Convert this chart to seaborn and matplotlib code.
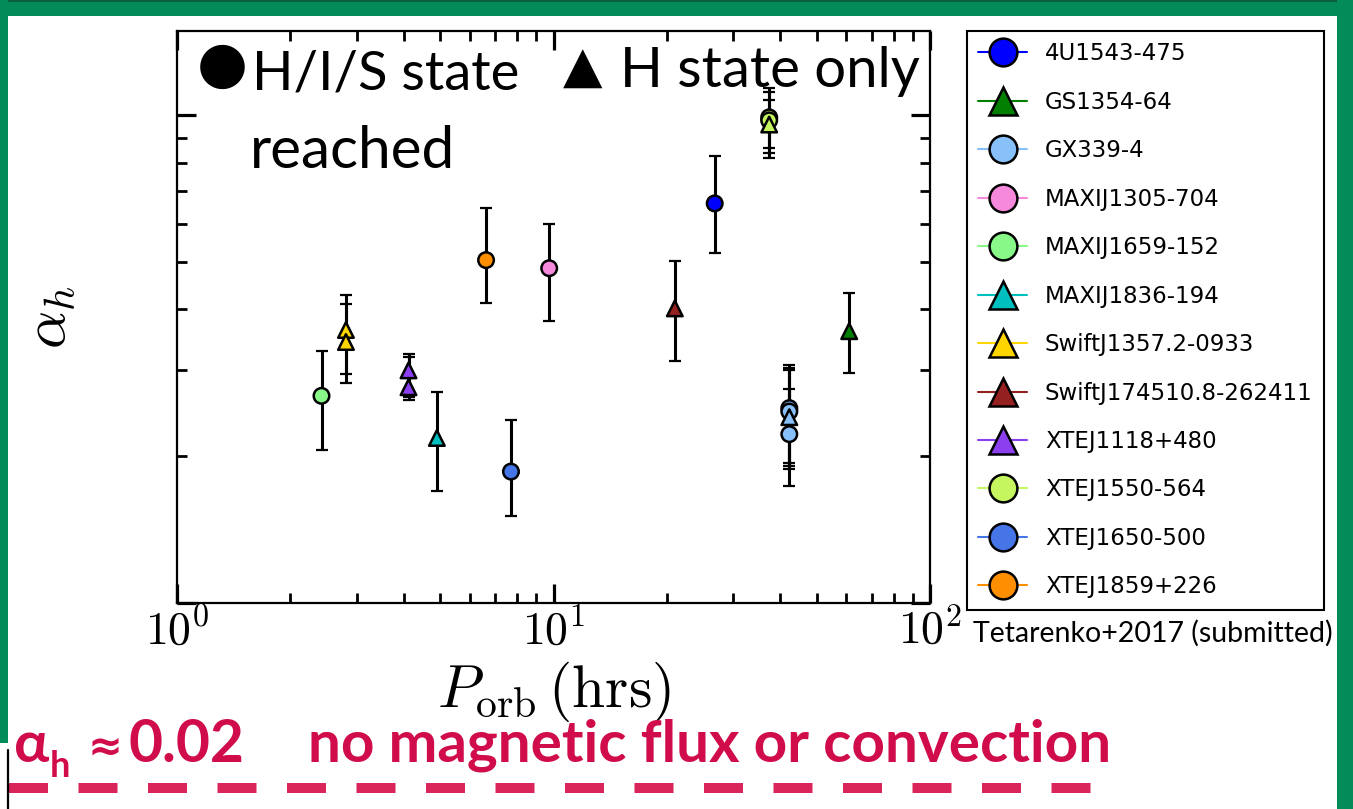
import numpy as np
import pandas as pd
import matplotlib
matplotlib.use("Agg")
import matplotlib.pyplot as plt
import seaborn as sns
from matplotlib.lines import Line2D
from matplotlib.patches import Rectangle
from matplotlib import ticker

# ---------------- data ----------------
sources = ["MAXIJ1659-152", "SwiftJ1357.2-0933", "SwiftJ1357.2-0933",
           "XTEJ1118+480", "XTEJ1118+480", "MAXIJ1836-194",
           "XTEJ1859+226", "XTEJ1650-500", "MAXIJ1305-704",
           "SwiftJ174510.8-262411", "4U1543-475",
           "XTEJ1550-564", "XTEJ1550-564", "XTEJ1550-564",
           "GX339-4", "GX339-4", "GX339-4", "GX339-4",
           "GS1354-64"]
period_hr = [2.42, 2.81, 2.81, 4.12, 4.12, 4.90, 6.62, 7.71, 9.74,
             21.0, 26.8, 37.4, 37.4, 37.4, 42.3, 42.3, 42.3, 42.3, 61.0]
alpha_h = [0.266, 0.363, 0.343, 0.300, 0.277, 0.218, 0.505, 0.186, 0.486,
           0.402, 0.660, 0.991, 0.977, 0.958, 0.251, 0.247, 0.222, 0.2405, 0.361]
alpha_lo = [0.206, 0.295, 0.283, 0.264, 0.261, 0.170, 0.412, 0.151, 0.378,
            0.313, 0.522, 0.856, 0.836, 0.816, 0.194, 0.191, 0.174, 0.188, 0.296]
alpha_hi = [0.328, 0.428, 0.410, 0.324, 0.319, 0.271, 0.645, 0.237, 0.598,
            0.502, 0.824, 1.136, 1.115, 1.078, 0.308, 0.303, 0.300, 0.2745, 0.432]
state = ["HIS", "H", "H", "H", "H", "H", "HIS", "HIS", "HIS",
         "H", "HIS", "HIS", "HIS", "H", "HIS", "HIS", "HIS", "H", "H"]

legend_order = ["4U1543-475", "GS1354-64", "GX339-4", "MAXIJ1305-704",
                "MAXIJ1659-152", "MAXIJ1836-194", "SwiftJ1357.2-0933",
                "SwiftJ174510.8-262411", "XTEJ1118+480", "XTEJ1550-564",
                "XTEJ1650-500", "XTEJ1859+226"]
legend_markers = ["o", "^", "o", "o", "o", "^", "^", "^", "^", "o", "o", "o"]
source_colors = ["#0000FF", "#007F00", "#88C0FA", "#F789DC", "#88F888",
                 "#00BFBF", "#FFD500", "#952020", "#8B3FEF", "#C5F660",
                 "#4575E6", "#FF8F00"]

df = pd.DataFrame({"source": sources, "P": period_hr, "alpha": alpha_h,
                   "lo": alpha_lo, "hi": alpha_hi, "state": state})
palette = dict(zip(legend_order, source_colors))

# ---------------- figure ----------------
sns.set_style("ticks")
plt.rcParams["font.family"] = ["DejaVu Sans"]
plt.rcParams["mathtext.fontset"] = "cm"
for k in ["text.color", "axes.labelcolor", "xtick.color", "ytick.color",
          "axes.edgecolor", "legend.labelcolor"]:
    plt.rcParams[k] = "black"

W, H = 1353, 809
fig = plt.figure(figsize=(W / 100, H / 100), dpi=100)
fig.patch.set_facecolor("white")


def fx(px):
    return px / W


def fy(py):
    return 1 - py / H


ax = fig.add_axes([fx(177), fy(603), (930 - 177) / W, (603 - 31) / H])
ax.set_facecolor("white")

ax.errorbar(df["P"], df["alpha"],
            yerr=[df["alpha"] - df["lo"], df["hi"] - df["alpha"]],
            fmt="none", ecolor="black", elinewidth=2.2, capsize=4,
            capthick=1.6, zorder=2)
sns.scatterplot(data=df, x="P", y="alpha", hue="source", style="state",
                palette=palette, markers={"HIS": "o", "H": "^"}, s=125,
                edgecolor="black", linewidth=1.8, legend=False, ax=ax,
                zorder=3)

ax.set_xscale("log")
ax.set_yscale("log")
ax.set_xlim(1, 100)
ax.set_ylim(0.1, 1.49)
ax.xaxis.set_major_locator(ticker.LogLocator(base=10))
ax.xaxis.set_major_formatter(ticker.FuncFormatter(
    lambda v, p: r"$10^{%d}$" % int(round(np.log10(v)))))
ax.xaxis.set_minor_formatter(ticker.NullFormatter())
ax.yaxis.set_major_formatter(ticker.NullFormatter())
ax.yaxis.set_minor_formatter(ticker.NullFormatter())
ax.tick_params(which="both", direction="in", top=True, right=True,
               color="black", labelcolor="black")
ax.tick_params(which="major", length=14, width=2.3)
ax.tick_params(which="minor", length=7, width=2.0)
ax.tick_params(axis="x", labelsize=33, pad=4)
for sp in ax.spines.values():
    sp.set_linewidth(1.6)
    sp.set_color("black")
ax.set_xlabel(r"$P_{\rm orb}\,({\rm hrs})$", fontsize=43, labelpad=4,
              color="black")
ax.set_ylabel(r"$\alpha_h$", fontsize=43, labelpad=68, color="black")

# ---------------- legend ----------------
handles = [Line2D([0], [0], color=palette[s], lw=1.5, marker=m,
                  markersize=20, markerfacecolor=palette[s],
                  markeredgecolor="black", markeredgewidth=1.8)
           for s, m in zip(legend_order, legend_markers)]
leg = fig.legend(handles, legend_order, loc="upper left",
                 bbox_to_anchor=(fx(967), fy(31)),
                 bbox_transform=fig.transFigure, borderaxespad=0,
                 fontsize=16.5, labelspacing=1.11, handlelength=2.1,
                 handletextpad=0.8, borderpad=0.5, frameon=True,
                 fancybox=False, edgecolor="black", framealpha=1,
                 numpoints=1)
leg.get_frame().set_linewidth(1.5)
for t in leg.get_texts():
    t.set_color("black")

# ---------------- slide texts ----------------
renderer = fig.canvas.get_renderer()
SANS = ["Lato", "Open Sans", "DejaVu Sans"]


def fit_text(x, y, txt, target_w, **kw):
    t = fig.text(fx(x), fy(y), txt, ha="left", va="baseline", **kw)
    w = t.get_window_extent(renderer).width
    t.set_fontsize(t.get_fontsize() * target_w / w)
    return t


fig.text(fx(222), fy(82), "\u25CF", fontsize=42, family="DejaVu Sans",
         ha="center", va="baseline", color="black")
fit_text(252, 90, "H/I/S state", 268, family=SANS, fontsize=40, color="black")
fit_text(250, 168, "reached", 205, family=SANS, fontsize=40, color="black")
fig.text(fx(583), fy(83), "\u25B2", fontsize=37, family="DejaVu Sans",
         ha="center", va="baseline", color="black")
fit_text(620, 87, "H state only", 300, family=SANS, fontsize=40, color="black")

fit_text(973, 642, "Tetarenko+2017 (submitted)", 360, family=SANS,
         fontsize=20, color="black")

RED = "#D00C4A"
t_main = fit_text(308, 762, "no magnetic flux or convection", 802,
                  family=SANS, fontsize=44, color=RED, weight="bold")
fs = t_main.get_fontsize()
fig.text(fx(14), fy(762), "\u03B1", fontsize=fs, family=SANS, weight="bold",
         color=RED, ha="left", va="baseline")
fig.text(fx(50), fy(777), "h", fontsize=fs * 0.62, family=SANS, weight="bold",
         color=RED, ha="left", va="baseline")
fig.text(fx(88), fy(760), "\u2248", fontsize=30, family="DejaVu Sans",
         weight="bold", color=RED, ha="left", va="baseline")
fit_text(129, 762, "0.02", 116, family=SANS, fontsize=fs, color=RED,
         weight="bold")

# dashed underline
fig.add_artist(Line2D([fx(9), fx(1121)], [fy(787.5), fy(787.5)],
                      transform=fig.transFigure, lw=7.2, color="#D9255A",
                      dashes=(39 / 10, 30.5 / 10), dash_capstyle="butt"))

# ---------------- green slide frame ----------------
GREEN = "#038B58"
fig.add_artist(Rectangle((0, fy(16)), 1, 16 / H, transform=fig.transFigure,
                         facecolor=GREEN, edgecolor="none"))
fig.add_artist(Rectangle((0, fy(2)), 1, 2 / H, transform=fig.transFigure,
                         facecolor="#0B5E3C", edgecolor="none"))
fig.add_artist(Rectangle((0, fy(743)), 8 / W, 743 / H,
                         transform=fig.transFigure, facecolor=GREEN,
                         edgecolor="none"))
fig.add_artist(Rectangle((fx(1337), 0), 16 / W, 1, transform=fig.transFigure,
                         facecolor=GREEN, edgecolor="none"))
fig.add_artist(Line2D([fx(7.5), fx(7.5)], [fy(750), 0],
                      transform=fig.transFigure, lw=1.6, color="black"))

fig.savefig("out.png", dpi=100, facecolor="white")
